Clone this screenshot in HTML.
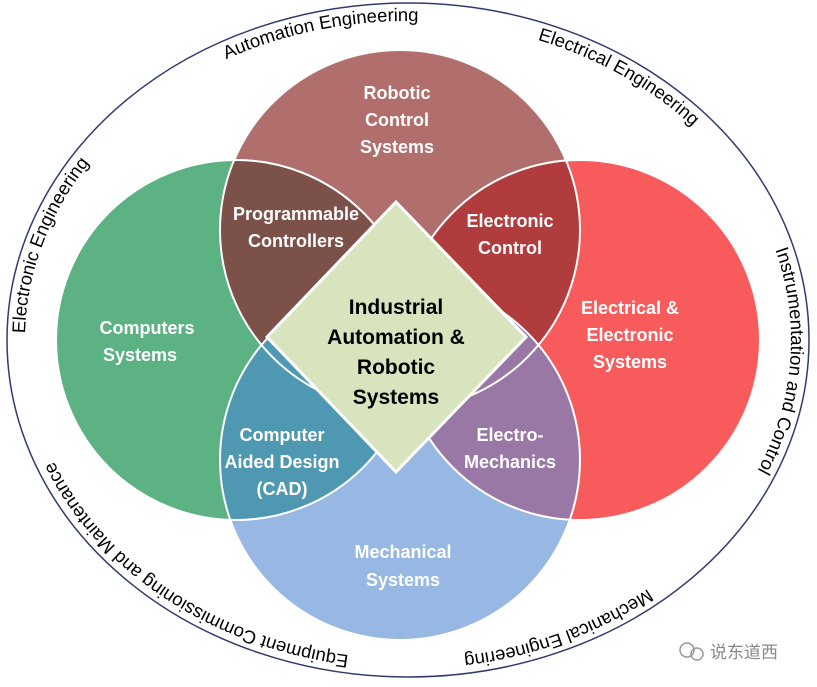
<!DOCTYPE html>
<html><head><meta charset="utf-8"><style>
body{margin:0;background:#fff;width:817px;height:687px;overflow:hidden}
svg{display:block}
.w{fill:#fff;font-family:"Liberation Sans",sans-serif;font-weight:bold;font-size:18px;text-anchor:middle}
.c{fill:#000;font-family:"Liberation Sans",sans-serif;font-weight:bold;font-size:21px;text-anchor:middle}
.o{fill:#000;font-family:"Liberation Sans",sans-serif;font-size:18.5px}
</style></head><body>
<svg width="817" height="687" viewBox="0 0 817 687">
<defs>
<circle id="eT" cx="400" cy="230" r="180"/>
<circle id="eL" cx="236" cy="340" r="180"/>
<circle id="eR" cx="580" cy="340" r="180"/>
<circle id="eB" cx="400" cy="460" r="180"/>
<clipPath id="cT"><use href="#eT"/></clipPath>
<clipPath id="cB"><use href="#eB"/></clipPath>
<path id="ring" d="M25,340 A383,319 0 1,1 791,340 A383,319 0 1,1 25,340 Z"/>
</defs>
<ellipse cx="408" cy="340" rx="401" ry="337" fill="none" stroke="#2f3b6b" stroke-width="1.5"/>
<use href="#eT" fill="#b06e6c"/>
<use href="#eB" fill="#97b8e2"/>
<use href="#eL" fill="#5cb283" stroke="#fff" stroke-width="2"/>
<use href="#eR" fill="#f75b5b" stroke="#fff" stroke-width="2"/>
<g clip-path="url(#cT)">
<use href="#eL" fill="#7b5149" stroke="#fff" stroke-width="2"/>
<use href="#eR" fill="#b03c3d" stroke="#fff" stroke-width="2"/>
</g>
<g clip-path="url(#cB)">
<use href="#eL" fill="#4f98b2" stroke="#fff" stroke-width="2"/>
<use href="#eR" fill="#9a78a6" stroke="#fff" stroke-width="2"/>
</g>
<use href="#eT" fill="none" stroke="#fff" stroke-width="2"/>
<use href="#eB" fill="none" stroke="#fff" stroke-width="2"/>
<polygon points="396,202 526,337 396,472 267,337" fill="#d7e4bd" stroke="#fff" stroke-width="3"/>
<text class="w" x="397" y="99">Robotic</text><text class="w" x="397" y="126">Control</text><text class="w" x="397" y="153">Systems</text>
<text class="w" x="296" y="220">Programmable</text><text class="w" x="296" y="247">Controllers</text>
<text class="w" x="510" y="227">Electronic</text><text class="w" x="510" y="254">Control</text>
<text class="w" x="147" y="334">Computers</text><text class="w" x="140" y="361">Systems</text>
<text class="w" x="630" y="314">Electrical &amp;</text><text class="w" x="630" y="341">Electronic</text><text class="w" x="630" y="368">Systems</text>
<text class="w" x="282" y="441">Computer</text><text class="w" x="282" y="468">Aided Design</text><text class="w" x="282" y="495">(CAD)</text>
<text class="w" x="510" y="441">Electro-</text><text class="w" x="510" y="468">Mechanics</text>
<text class="w" x="403" y="558">Mechanical</text><text class="w" x="403" y="586">Systems</text>
<text class="c" x="396" y="314">Industrial</text><text class="c" x="396" y="344">Automation &amp;</text><text class="c" x="396" y="374">Robotic</text><text class="c" x="396" y="404">Systems</text>
<text class="o"><textPath href="#ring" startOffset="4.5%" text-anchor="middle">Electronic Engineering</textPath></text>
<text class="o"><textPath href="#ring" startOffset="21%" text-anchor="middle">Automation Engineering</textPath></text>
<text class="o"><textPath href="#ring" startOffset="35%" text-anchor="middle">Electrical Engineering</textPath></text>
<text class="o"><textPath href="#ring" startOffset="51%" text-anchor="middle">Instrumentation and Control</textPath></text>
<text class="o"><textPath href="#ring" startOffset="68%" text-anchor="middle">Mechanical Engineering</textPath></text>
<text class="o"><textPath href="#ring" startOffset="86%" text-anchor="middle">Equipment Commissioning and Maintenance</textPath></text>
<g fill="none" stroke="#999" stroke-width="1.5"><circle cx="687" cy="650" r="7"/><circle cx="697" cy="654" r="6"/></g>
<text x="710" y="658" font-family="'Liberation Sans','Noto Sans CJK SC',sans-serif" font-size="17" fill="#888">说东道西</text>
</svg>
</body></html>
